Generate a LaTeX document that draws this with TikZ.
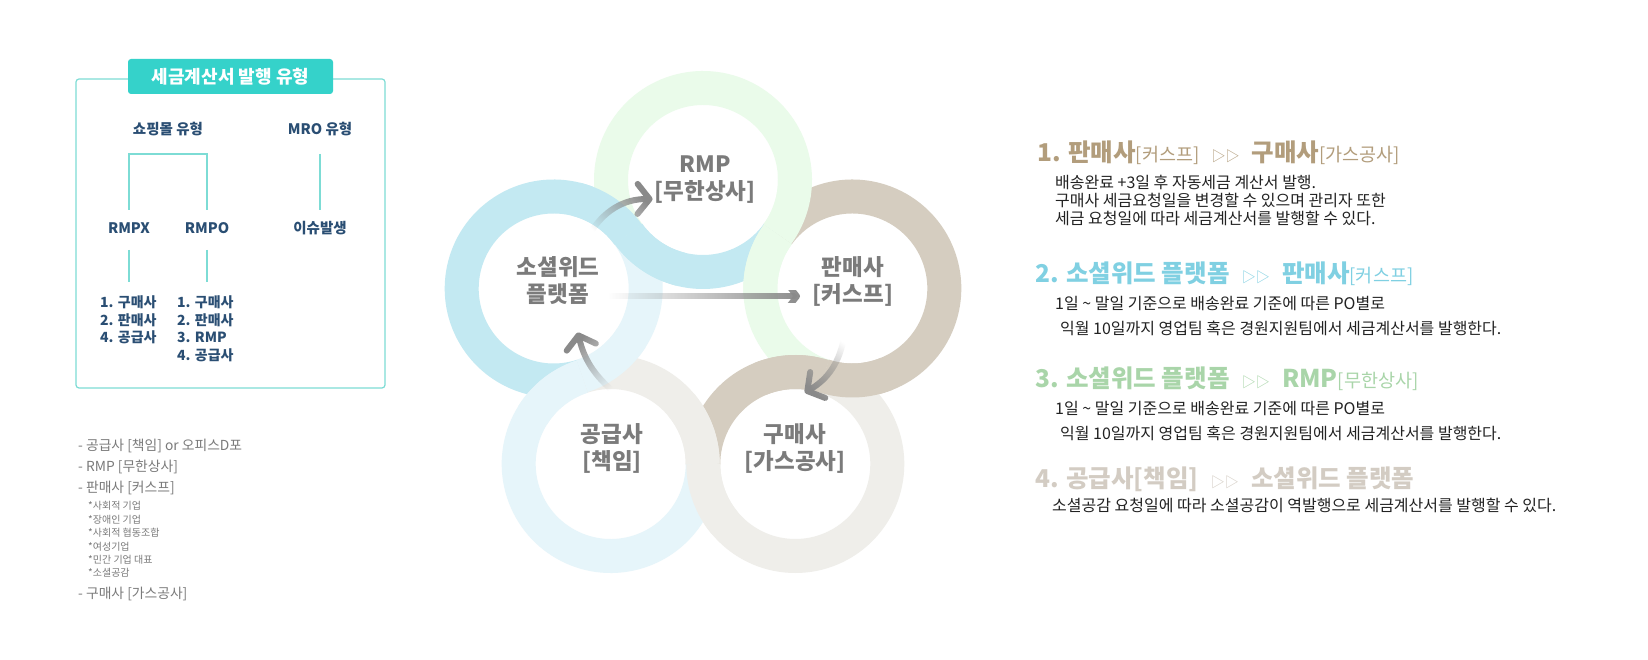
\documentclass[tikz,border=0pt]{standalone}
\usepackage{fontspec}
\setmainfont{Noto Sans CJK KR}
\usetikzlibrary{positioning, calc, arrows.meta, fadings}

\definecolor{socialring}{HTML}{C3E9F2}
\definecolor{rmpring}{HTML}{EAFBEA}
\definecolor{sellerring}{HTML}{D5CDC0}
\definecolor{buyerring}{HTML}{EFEEEA}
\definecolor{supplierring}{HTML}{E6F5FA}
\definecolor{tagteal}{HTML}{35D2CA}
\definecolor{boxteal}{HTML}{7DDCD5}
\definecolor{navytext}{HTML}{2A4E73}
\definecolor{notegray}{HTML}{7A7A7A}
\definecolor{hubgray}{HTML}{7B7B7B}
\definecolor{arrowgray}{HTML}{8A8A8A}
\definecolor{headA}{HTML}{B29D7C}
\definecolor{headB}{HTML}{80D0E2}
\definecolor{headC}{HTML}{A9D5A9}
\definecolor{headD}{HTML}{D3CCC3}
\definecolor{bodytext}{HTML}{222222}

\tikzfading[name=arrowfade, left color=transparent!100, middle color=transparent!30, right color=transparent!0]

\newcommand{\compname}[1]{{\mdseries\fontsize{18.5}{22}\selectfont[#1]}}
\newcommand{\twotri}{\hspace{0.5em}{\mdseries\fontsize{14}{16}\selectfont ▷▷}\hspace{0.5em}}

\tikzstyle{ring} = [line width=34pt]
\tikzstyle{hub} = [circle, minimum size=110pt, inner sep=0pt, align=center, text=hubgray, font=\bfseries\fontsize{22.5}{27}\selectfont]
\tikzstyle{flow} = [draw=arrowgray, line width=6pt, line cap=round, -{Straight Barb[length=12pt, width=30pt, round]}, path fading=arrowfade]
\tikzstyle{tag} = [rectangle, fill=tagteal, rounded corners=3pt, minimum width=205pt, minimum height=35pt, text=white, font=\bfseries\fontsize{18}{22}\selectfont]
\tikzstyle{panel} = [draw=boxteal, line width=1.2pt, rounded corners=3pt]
\tikzstyle{branch} = [draw=boxteal, line width=1.2pt]
\tikzstyle{kind} = [text=navytext, font=\bfseries\fontsize{14.5}{17}\selectfont, inner sep=0pt]
\tikzstyle{items} = [text=navytext, font=\bfseries\fontsize{14}{17.5}\selectfont, align=left, inner sep=0pt, anchor=north west]
\tikzstyle{note} = [text=notegray, font=\fontsize{13.8}{21}\selectfont, align=left, inner sep=0pt, anchor=north west]
\tikzstyle{subnote} = [text=notegray, font=\fontsize{10}{13.4}\selectfont, align=left, inner sep=0pt, anchor=north west]
\tikzstyle{head} = [font=\bfseries\fontsize{24.5}{28}\selectfont, inner sep=0pt, anchor=west]
\tikzstyle{body} = [text=bodytext, font=\fontsize{16}{25}\selectfont, align=left, inner sep=0pt, anchor=north west]

\begin{document}
\begin{tikzpicture}[x=1pt, y=1pt, node distance=99pt]
    \fill[white] (0,0) rectangle (1648,660);
    \useasboundingbox (0,0) rectangle (1648,660);

    % Left panel
    \draw[panel] (76,272) rectangle (385,581);
    \node (title) [tag] at (230.5,583.5) {세금계산서 발행 유형};
    \node (shop) [kind] at (168,531) {쇼핑몰 유형};
    \node (mro) [kind] at (320,531) {MRO 유형};
    \node (rmpx) [kind, below of=shop, xshift=-39pt] {RMPX};
    \node (rmpo) [kind, below of=shop, xshift=39pt] {RMPO};
    \node (issue) [kind, below of=mro] {이슈발생};
    \node (listx) [items] at (100,364.3) {1. 구매사\\2. 판매사\\4. 공급사};
    \node (listo) [items] at (177,364.3) {1. 구매사\\2. 판매사\\3. RMP\\4. 공급사};

    \coordinate (fork) at (168,506);
    \draw[branch] ($(rmpx)+(0,18)$) -- (rmpx |- fork) -- (rmpo |- fork) -- ($(rmpo)+(0,18)$);
    \draw[branch] ($(mro)+(0,-25)$) -- ($(issue)+(0,18)$);
    \draw[branch] ($(rmpx)+(0,-22)$) -- ($(rmpx)+(0,-54)$);
    \draw[branch] ($(rmpo)+(0,-22)$) -- ($(rmpo)+(0,-54)$);

    % Notes
    \node (notes) [note] at (78,221.2) {- 공급사 [책임] or 오피스D포\\- RMP [무한상사]\\- 판매사 [커스프]};
    \node (kinds) [subnote] at (88,158.5) {*사회적 기업\\*장애인 기업\\*사회적 협동조합\\*여성기업\\*민간 기업 대표\\*소셜공감};
    \node (lastnote) [note] at (78,73.2) {- 구매사 [가스공사]};

    % Rings
    \coordinate (cS) at (553.7,371.5);
    \coordinate (cR) at (703,480);
    \coordinate (cP) at (852.3,371.5);
    \coordinate (cB) at (795.3,196);
    \coordinate (cG) at (610.7,196);
    \foreach \c/\p/\own/\prv in {cS/162/socialring/supplierring, cR/90/rmpring/socialring, cP/18/sellerring/rmpring, cB/-54/buyerring/sellerring, cG/-126/supplierring/buyerring}{
        \pgfmathsetmacro\ta{\p-126}
        \pgfmathsetmacro\tb{\p+126}
        \pgfmathsetmacro\tc{\p+234}
        \draw[ring, draw=\own] ($(\c)+(\ta:92)$) arc[start angle=\ta, end angle=\tb, radius=92];
        \draw[ring, draw=\prv] ($(\c)+(\tb:92)$) arc[start angle=\tb, end angle=\tc, radius=92];
    }
    \foreach \c/\p/\own/\prv in {cS/162/socialring/supplierring, cR/90/rmpring/socialring, cP/18/sellerring/rmpring, cB/-54/buyerring/sellerring, cG/-126/supplierring/buyerring}{
        \pgfmathsetmacro\ta{\p-126}
        \pgfmathsetmacro\tad{\p-86}
        \pgfmathsetmacro\tb{\p+126}
        \pgfmathsetmacro\tbd{\p+166}
        \draw[ring, draw=\own] ($(\c)+(\ta:92)$) arc[start angle=\ta, end angle=\tad, radius=92];
        \draw[ring, draw=\prv] ($(\c)+(\tb:92)$) arc[start angle=\tb, end angle=\tbd, radius=92];
    }

    \node (social) [hub] at (558,379) {소셜위드\\플랫폼};
    \node (rmp) [hub] at (705,480) {RMP\\{}[무한상사]};
    \node (seller) [hub] at (853,379) {판매사\\{}[커스프]};
    \node (buyer) [hub] at (795,212) {구매사\\{}[가스공사]};
    \node (supplier) [hub] at (612,212) {공급사\\{}[책임]};

    \draw[flow, fading angle=30] (social.56) to[bend left=30] (rmp.200);
    \draw[flow] (social.-16) -- (seller.196);
    \draw[flow, fading angle=-120] (seller.261) to[bend left=25] (buyer.80);
    \draw[flow, fading angle=120] (supplier.87) to[bend left=18] (social.-69);

    % Right side
    \node (step1) [head, text=headA] at (1037,507) {1. 판매사\compname{커스프}\twotri 구매사\compname{가스공사}};
    \node (desc1) [body, font=\fontsize{16}{18}\selectfont] at (1055,485.2) {배송완료 +3일 후 자동세금 계산서 발행.\\구매사 세금요청일을 변경할 수 있으며 관리자 또한\\세금 요청일에 따라 세금계산서를 발행할 수 있다.};
    \node (step2) [head, text=headB] at (1035,386) {2. 소셜위드 플랫폼\twotri 판매사\compname{커스프}};
    \node (desc2) [body] at (1055,364.2) {1일 \textasciitilde{} 말일 기준으로 배송완료 기준에 따른 PO별로\\\hspace*{5pt}익월 10일까지 영업팀 혹은 경원지원팀에서 세금계산서를 발행한다.};
    \node (step3) [head, text=headC] at (1035,281) {3. 소셜위드 플랫폼\twotri RMP\compname{무한상사}};
    \node (desc3) [body] at (1055,259.2) {1일 \textasciitilde{} 말일 기준으로 배송완료 기준에 따른 PO별로\\\hspace*{5pt}익월 10일까지 영업팀 혹은 경원지원팀에서 세금계산서를 발행한다.};
    \node (step4) [head, text=headD] at (1035,181) {4. 공급사[책임]\twotri 소셜위드 플랫폼};
    \node (desc4) [body] at (1052,162.2) {소셜공감 요청일에 따라 소셜공감이 역발행으로 세금계산서를 발행할 수 있다.};
\end{tikzpicture}
\end{document}
